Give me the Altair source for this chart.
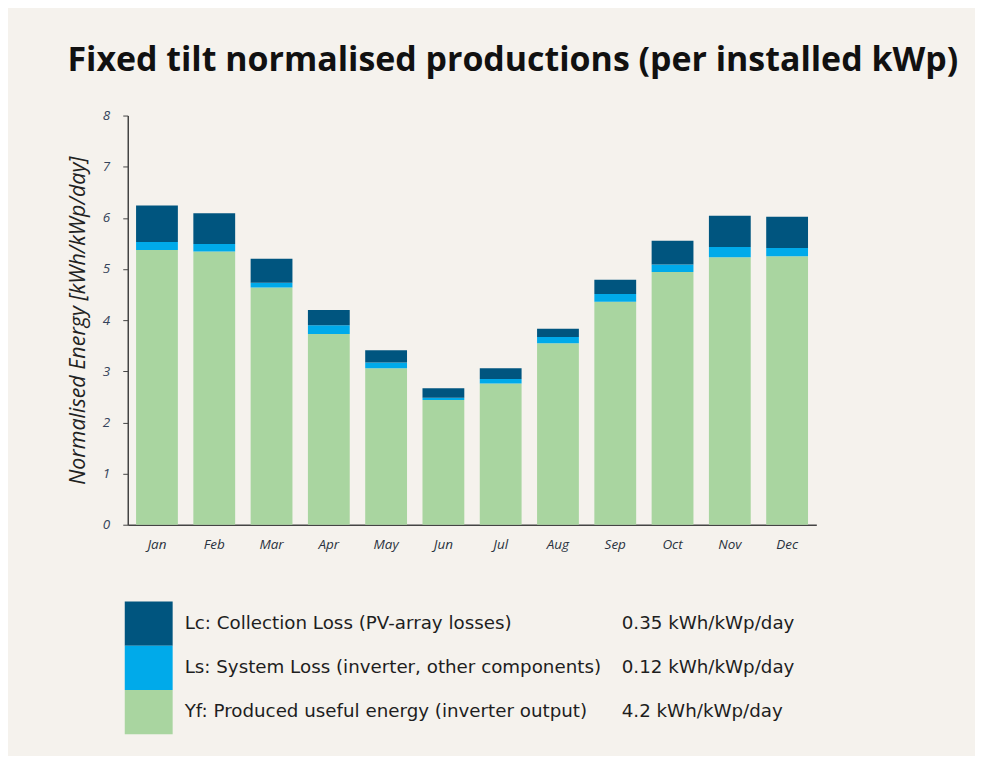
import altair as alt
import pandas as pd

months = ["Jan", "Feb", "Mar", "Apr", "May", "Jun", "Jul", "Aug", "Sep", "Oct", "Nov", "Dec"]
yf = [5.37, 5.34, 4.64, 3.73, 3.06, 2.44, 2.76, 3.55, 4.36, 4.94, 5.23, 5.25]
ls = [0.16, 0.15, 0.09, 0.17, 0.11, 0.04, 0.09, 0.12, 0.15, 0.15, 0.20, 0.16]
lc = [0.71, 0.60, 0.47, 0.30, 0.24, 0.19, 0.21, 0.16, 0.28, 0.46, 0.61, 0.61]

components = ["Lc", "Ls", "Yf"]
colors = ["#00557f", "#00aaea", "#a9d5a0"]
legend_labels = [
    "Lc: Collection Loss (PV-array losses)",
    "Ls: System Loss (inverter, other components)",
    "Yf: Produced useful energy (inverter output)",
]
legend_values = ["0.35 kWh/kWp/day", "0.12 kWh/kWp/day", "4.2 kWh/kWp/day"]

rows = []
for i, m in enumerate(months):
    rows.append({"month": m, "component": "Yf", "value": yf[i], "order": 0})
    rows.append({"month": m, "component": "Ls", "value": ls[i], "order": 1})
    rows.append({"month": m, "component": "Lc", "value": lc[i], "order": 2})
df = pd.DataFrame(rows)

color_scale = alt.Scale(domain=components, range=colors)
label_font = "Open Sans"

bars = alt.Chart(df).mark_bar().encode(
    x=alt.X(
        "month:N",
        sort=months,
        scale=alt.Scale(paddingInner=0.27, paddingOuter=0.145),
        axis=alt.Axis(
            title=None, labelAngle=0, ticks=False, labelPadding=13,
            labelFont=label_font, labelFontStyle="italic", labelFontSize=13.5,
            labelColor="#2a3340", domainColor="#444444", domainWidth=1.5,
        ),
    ),
    y=alt.Y(
        "value:Q",
        stack="zero",
        scale=alt.Scale(domain=[0, 8], nice=False),
        axis=alt.Axis(
            title="Normalised Energy [kWh/kWp/day]", values=list(range(9)),
            grid=False, tickSize=5, tickColor="#444444", domainColor="#444444",
            domainWidth=1.5, labelPadding=13, labelFont=label_font,
            labelFontStyle="italic", labelFontSize=13.5, labelColor="#34435a",
            titleFont=label_font, titleFontStyle="italic", titleFontWeight="normal",
            titleFontSize=21.5, titleColor="#222222", titlePadding=13,
        ),
    ),
    color=alt.Color("component:N", scale=color_scale, legend=None),
    order=alt.Order("order:Q", sort="ascending"),
).properties(width=690, height=410)

leg_df = pd.DataFrame({"label": legend_labels, "val": legend_values, "component": components})
base = alt.Chart(leg_df).encode(
    y=alt.Y("label:N", sort=legend_labels,
            scale=alt.Scale(paddingInner=0, paddingOuter=0), axis=None)
)
swatches = base.mark_rect().encode(
    x=alt.value(-3), x2=alt.value(45),
    color=alt.Color("component:N", scale=color_scale, legend=None),
)
labels = base.mark_text(align="left", baseline="middle", font="DejaVu Sans",
                        fontSize=18.3, color="#1e1e1e").encode(x=alt.value(57), text="label:N")
values = base.mark_text(align="left", baseline="middle", font="DejaVu Sans",
                        fontSize=18.3, color="#1e1e1e").encode(x=alt.value(495), text="val:N")
legend = (swatches + labels + values).properties(width=690, height=133)

chart = alt.vconcat(bars, legend, spacing=50).properties(
    title=alt.TitleParams(
        "Fixed tilt normalised productions (per installed kWp)",
        font="Open Sans", fontSize=34, fontWeight="bold", color="#111111",
        anchor="start", offset=31,
    ),
    padding={"left": 59, "right": 16, "top": 35, "bottom": 21},
    background="#f5f2ed",
).configure_view(stroke=None)

chart.save("out.html", embed_options={"renderer": "svg", "actions": False})
